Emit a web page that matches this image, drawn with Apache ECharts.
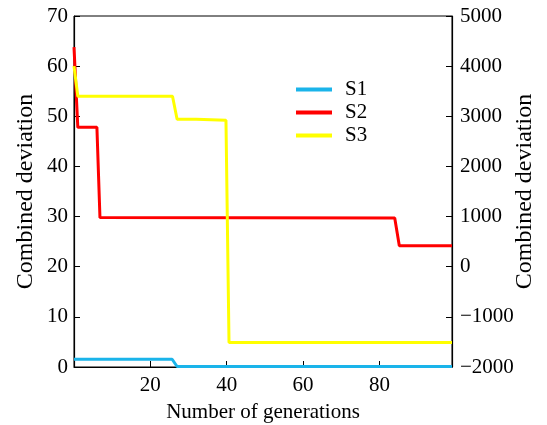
<!DOCTYPE html>
<html>
<head>
<meta charset="utf-8">
<script src="https://cdn.jsdelivr.net/npm/echarts@6/dist/echarts.min.js"></script>
<style>
html, body { margin: 0; padding: 0; background: #fff; }
#chart { width: 547px; height: 425px; }
</style>
</head>
<body>
<div id="chart"></div>
<script>
// 数据
var seriesNames = ['S1', 'S2', 'S3'];
var s1Gen = [0, 25.7, 27, 99];
var s1Val = [1.55, 1.55, 0.1, 0.1];
var s2Gen = [0, 1, 6, 6.8, 84, 85.2, 99];
var s2Val = [63.8, 47.8, 47.8, 29.8, 29.7, 24.2, 24.2];
// S3 使用右侧坐标轴
var s3Gen = [0, 1, 25.8, 27, 32, 32.5, 39.8, 40.6, 99];
var s3Val = [4000, 3400, 3400, 2940, 2940, 2920, 2920, -1510, -1510];
var colors = ['#1ab4ea', '#ff0000', '#ffff00'];

function pairs(xs, ys) {
	var out = [];
	for (var i = 0; i < xs.length; i++) {
		out.push([xs[i], ys[i]]);
	}
	return out;
}

var font = "'Liberation Serif', 'Times New Roman', serif";
var chart = echarts.init(document.getElementById('chart'));

chart.setOption({
	animation : false,
	color : colors,
	grid : {
		left : 74,
		right : 95,
		top : 16,
		bottom : 58,
		outerBoundsMode : 'none',
		containLabel : false,
		show : true,
		borderColor : '#000',
		borderWidth : 1
	},
	legend : {
		orient : 'vertical',
		left : 291,
		top : 74,
		icon : 'rect',
		itemWidth : 36,
		itemHeight : 4,
		itemGap : 2,
		data : seriesNames,
		textStyle : {
			fontFamily : font,
			fontSize : 21,
			color : '#000',
			lineHeight : 20,
			padding : [0, 0, 0, 8]
		}
	},
	xAxis : {
		type : 'value',
		min : 0,
		max : 99,
		interval : 20,
		name : 'Number of generations',
		nameLocation : 'middle',
		nameGap : 35,
		nameTextStyle : { fontFamily : font, fontSize : 21, color : '#000' },
		axisLine : { lineStyle : { color : '#000', width : 1.2 } },
		axisTick : { inside : true, length : 6, lineStyle : { color : '#000' } },
		axisLabel : {
			fontFamily : font, fontSize : 21, color : '#000', margin : 8,
			showMinLabel : false, showMaxLabel : false
		},
		splitLine : { show : false }
	},
	yAxis : [ {
		type : 'value',
		min : 0,
		max : 70,
		interval : 10,
		name : 'Combined deviation',
		nameLocation : 'middle',
		nameGap : 36,
		nameMoveOverlap : false,
		nameTextStyle : { fontFamily : font, fontSize : 24, color : '#000' },
		axisLine : { show : true, lineStyle : { color : '#000', width : 1.2 } },
		axisTick : { inside : true, length : 6, lineStyle : { color : '#000' } },
		axisLabel : { fontFamily : font, fontSize : 21, color : '#000', margin : 6 },
		splitLine : { show : false }
	}, {
		type : 'value',
		position : 'right',
		min : -2000,
		max : 5000,
		interval : 1000,
		name : 'Combined deviation',
		nameLocation : 'middle',
		nameGap : 61,
		nameMoveOverlap : false,
		nameRotate : 90,
		nameTextStyle : { fontFamily : font, fontSize : 24, color : '#000' },
		axisLine : { show : true, lineStyle : { color : '#000', width : 1.2 } },
		axisTick : { inside : true, length : 6, lineStyle : { color : '#000' } },
		axisLabel : {
			fontFamily : font, fontSize : 21, color : '#000', margin : 8,
			formatter : function(v) {
				return String(v).replace('-', '\u2212');
			}
		},
		splitLine : { show : false }
	} ],
	series : [ {
		name : 'S1',
		type : 'line',
		yAxisIndex : 0,
		showSymbol : false,
		symbol : 'none',
		lineStyle : { width : 3 },
		data : pairs(s1Gen, s1Val)
	}, {
		name : 'S2',
		type : 'line',
		yAxisIndex : 0,
		showSymbol : false,
		symbol : 'none',
		lineStyle : { width : 3 },
		data : pairs(s2Gen, s2Val)
	}, {
		name : 'S3',
		type : 'line',
		yAxisIndex : 1,
		showSymbol : false,
		symbol : 'none',
		lineStyle : { width : 3 },
		data : pairs(s3Gen, s3Val)
	} ]
});
</script>
</body>
</html>
